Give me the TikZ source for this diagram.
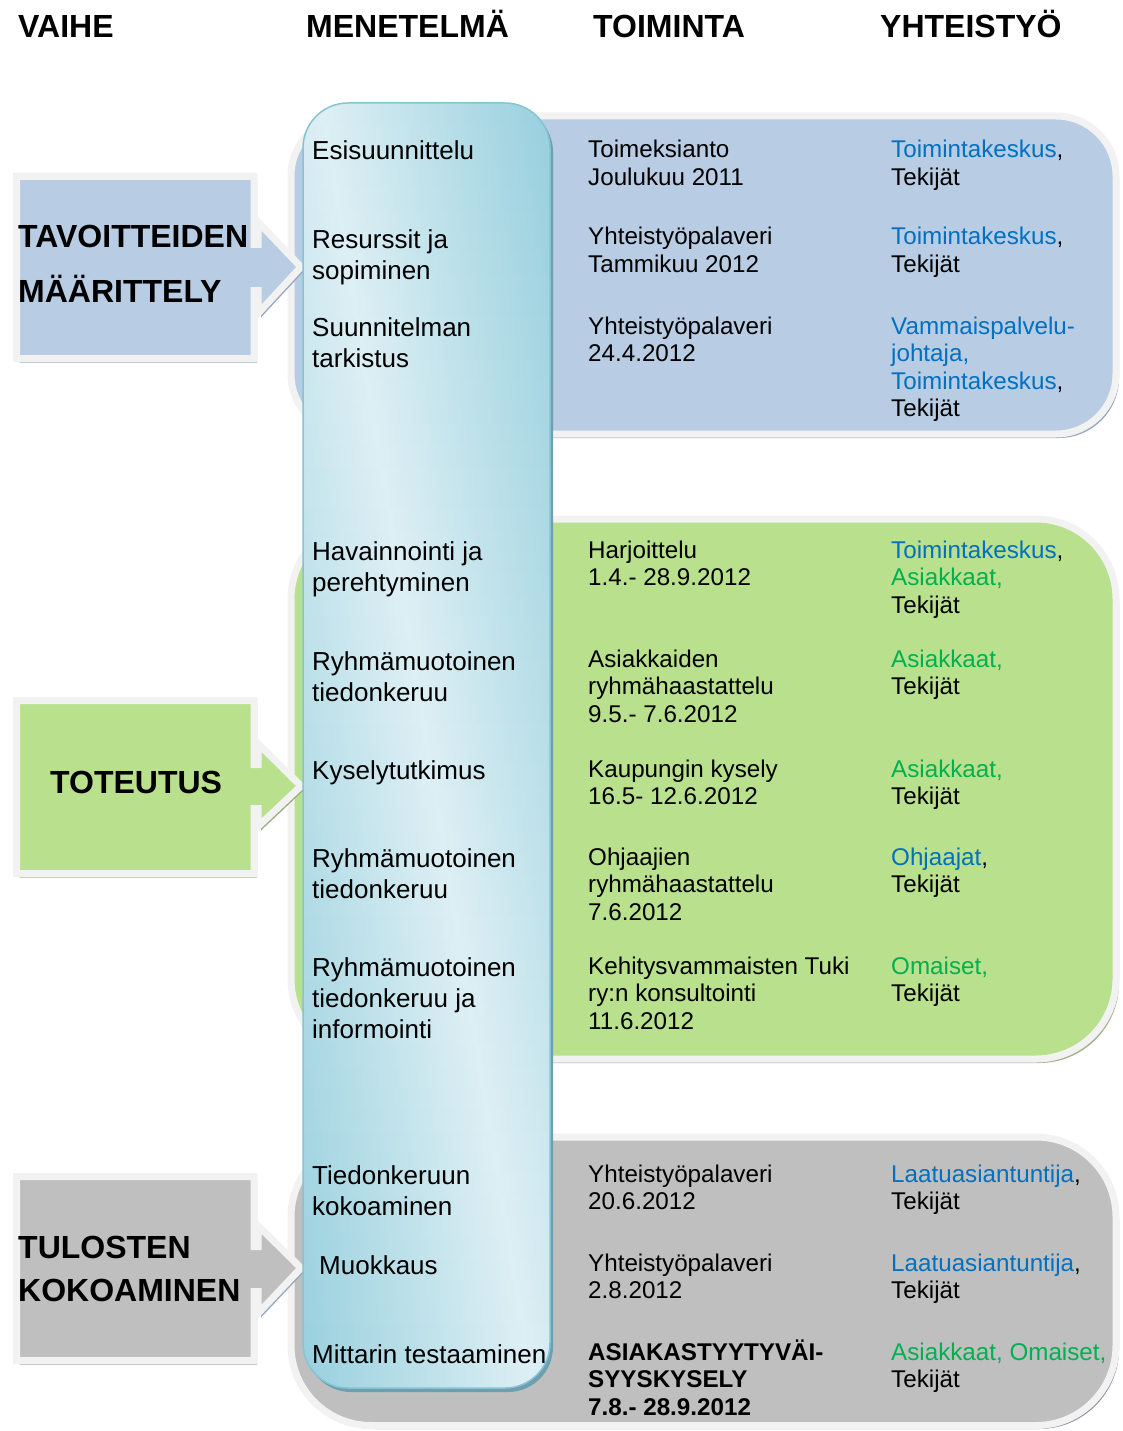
\documentclass[tikz,border=0pt]{standalone}
\usepackage{fontspec}
\setmainfont{Liberation Sans}
\definecolor{phaseblue}{HTML}{B8CCE4}
\definecolor{phasegreen}{HTML}{B9E08C}
\definecolor{phasegray}{HTML}{BFBFBF}
\definecolor{rimgray}{HTML}{F2F2F2}
\definecolor{shadeblue}{HTML}{95A6BD}
\definecolor{shadegreen}{HTML}{9DAF86}
\definecolor{shadegray}{HTML}{8E8CA2}
\definecolor{barlight}{HTML}{DDEFF4}
\definecolor{bardark}{HTML}{92CDDC}
\definecolor{baredge}{HTML}{86C3D3}
\definecolor{barshadow}{HTML}{6E9FAE}
\definecolor{linkblue}{HTML}{0070C0}
\definecolor{linkgreen}{HTML}{00B050}

\begin{document}
\begin{tikzpicture}[x=1pt, y=-1pt,
  rim/.style={draw=rimgray, line width=7pt, line join=miter},
  head/.style={anchor=base west, inner sep=0pt, font=\fontsize{32}{40}\selectfont\bfseries},
  phase/.style={anchor=base west, inner sep=0pt, align=left, font=\fontsize{32}{55}\selectfont\bfseries},
  method/.style={anchor=base west, inner sep=0pt, align=left, font=\fontsize{26}{31}\selectfont},
  task/.style={anchor=base west, inner sep=0pt, align=left, font=\fontsize{24.2}{27.6}\selectfont}]
  \useasboundingbox (0,0) rectangle (1122,1431);

  % column heads
  \node[head] (hvaihe) at (18,38) {VAIHE};
  \node[head] (hmenet) at (306,38) {MENETELMÄ};
  \node[head] (htoimi) at (593,38) {TOIMINTA};
  \node[head] (hyhteis) at (880,38) {YHTEISTYÖ};

  % phase panels
  \fill[shadeblue, rounded corners=60] (294,120) rectangle (1119,438);
  \draw[rim, fill=phaseblue, rounded corners=60] (291,116) rectangle (1116,434);
  \fill[shadegreen, rounded corners=80] (294,523) rectangle (1119,1063);
  \draw[rim, fill=phasegreen, rounded corners=80] (291,519) rectangle (1116,1059);
  \fill[shadegray, rounded corners=80] (294,1141) rectangle (1119,1429);
  \draw[rim, fill=phasegray, rounded corners=80] (291,1137) rectangle (1116,1425.5);

  % phase arrows on the left
  \fill[shadeblue, shift={(3,4)}] (16.5,176.5) -- (254,176.5) -- (254,244.5) -- (258,244.5) -- (258,222) -- (301,267)
    -- (258,313.5) -- (258,290.5) -- (254,290.5) -- (254,358.5) -- (16.5,358.5) -- cycle;
  \draw[rim, fill=phaseblue] (16.5,176.5) -- (254,176.5) -- (254,244.5) -- (258,244.5) -- (258,222) -- (301,267)
    -- (258,313.5) -- (258,290.5) -- (254,290.5) -- (254,358.5) -- (16.5,358.5) -- cycle;
  \fill[shadegreen, shift={(3,4)}] (16.5,700.5) -- (254,700.5) -- (254,764.5) -- (258,764.5) -- (258,743.5) -- (301,786)
    -- (258,826.5) -- (258,808.5) -- (254,808.5) -- (254,873.5) -- (16.5,873.5) -- cycle;
  \draw[rim, fill=phasegreen] (16.5,700.5) -- (254,700.5) -- (254,764.5) -- (258,764.5) -- (258,743.5) -- (301,786)
    -- (258,826.5) -- (258,808.5) -- (254,808.5) -- (254,873.5) -- (16.5,873.5) -- cycle;
  \fill[shadeblue, shift={(3,4)}] (16.5,1176.5) -- (254,1176.5) -- (254,1246.5) -- (258,1246.5) -- (258,1225.5) -- (301,1268)
    -- (258,1313.5) -- (258,1291.5) -- (254,1291.5) -- (254,1360.5) -- (16.5,1360.5) -- cycle;
  \draw[rim, fill=phasegray] (16.5,1176.5) -- (254,1176.5) -- (254,1246.5) -- (258,1246.5) -- (258,1225.5) -- (301,1268)
    -- (258,1313.5) -- (258,1291.5) -- (254,1291.5) -- (254,1360.5) -- (16.5,1360.5) -- cycle;

  % multi-line nodes sit on the baseline of their last line
  \node[phase] (ptavoite) at (18,302.5) {TAVOITTEIDEN\\MÄÄRITTELY};
  \node[phase] (ptoteutus) at (50,793.5) {TOTEUTUS};
  \node[phase, font=\fontsize{32}{43}\selectfont\bfseries] (ptulos) at (18,1301.5) {TULOSTEN\\KOKOAMINEN};

  % method bar, light spot runs from upper left to lower right
  \fill[barshadow, rounded corners=45] (306,107) rectangle (553,1392);
  \begin{scope}
    \clip[rounded corners=45] (303,103) rectangle (550,1388);
    \foreach \i in {0,...,59}{
      \pgfmathsetmacro\ya{103+\i*21.4167}
      \pgfmathsetmacro\yb{\ya+22.4}
      \pgfmathsetmacro\xp{303+247*(0.08+0.84*\i/59)}
      \pgfmathtruncatemacro\pl{100*(0.08+0.84*\i/59)}
      \pgfmathtruncatemacro\pr{100-\pl}
      \shade[left color=bardark!\pl!barlight, right color=barlight] (303,\ya) rectangle (\xp+0.5,\yb);
      \shade[left color=barlight, right color=bardark!\pr!barlight] (\xp,\ya) rectangle (550,\yb);
    }
  \end{scope}
  \draw[baredge, line width=1.5pt, rounded corners=45] (303,103) rectangle (550,1388);

  % MENETELMÄ
  \node[method] (m1) at (312,160) {Esisuunnittelu};
  \node[method] (m2) at (312,279) {Resurssit ja\\sopiminen};
  \node[method] (m3) at (312,367) {Suunnitelman\\tarkistus};
  \node[method] (m4) at (312,591) {Havainnointi ja\\perehtyminen};
  \node[method] (m5) at (312,701) {Ryhmämuotoinen\\tiedonkeruu};
  \node[method] (m6) at (312,779) {Kyselytutkimus};
  \node[method] (m7) at (312,898) {Ryhmämuotoinen\\tiedonkeruu};
  \node[method] (m8) at (312,1038) {Ryhmämuotoinen\\tiedonkeruu ja\\informointi};
  \node[method] (m9) at (312,1215) {Tiedonkeruun\\kokoaminen};
  \node[method] (m10) at (319,1274) {Muokkaus};
  \node[method] (m11) at (312,1363) {Mittarin testaaminen};

  % TOIMINTA
  \node[task] (t1) at (588,185.6) {Toimeksianto\\Joulukuu 2011};
  \node[task] (t2) at (588,272.6) {Yhteistyöpalaveri\\Tammikuu 2012};
  \node[task] (t3) at (588,361.6) {Yhteistyöpalaveri\\24.4.2012};
  \node[task] (t4) at (588,585.6) {Harjoittelu\\1.4.- 28.9.2012};
  \node[task] (t5) at (588,722.2) {Asiakkaiden\\ryhmähaastattelu\\9.5.- 7.6.2012};
  \node[task] (t6) at (588,804.6) {Kaupungin kysely\\16.5- 12.6.2012};
  \node[task] (t7) at (588,920.2) {Ohjaajien\\ryhmähaastattelu\\7.6.2012};
  \node[task] (t8) at (588,1029.2) {Kehitysvammaisten Tuki\\ry:n konsultointi\\11.6.2012};
  \node[task] (t9) at (588,1209.6) {Yhteistyöpalaveri\\20.6.2012};
  \node[task] (t10) at (588,1298.6) {Yhteistyöpalaveri\\2.8.2012};
  \node[task, font=\fontsize{24.2}{27.6}\selectfont\bfseries] (t11) at (588,1415.2) {ASIAKASTYYTYVÄI-\\SYYSKYSELY\\7.8.- 28.9.2012};

  % YHTEISTYÖ
  \node[task] (y1) at (891,185.6) {\textcolor{linkblue}{Toimintakeskus},\\Tekijät};
  \node[task] (y2) at (891,272.6) {\textcolor{linkblue}{Toimintakeskus},\\Tekijät};
  \node[task] (y3) at (891,416.8) {\textcolor{linkblue}{Vammaispalvelu-}\\\textcolor{linkblue}{johtaja,}\\\textcolor{linkblue}{Toimintakeskus},\\Tekijät};
  \node[task] (y4) at (891,613.2) {\textcolor{linkblue}{Toimintakeskus},\\\textcolor{linkgreen}{Asiakkaat,}\\Tekijät};
  \node[task] (y5) at (891,694.6) {\textcolor{linkgreen}{Asiakkaat,}\\Tekijät};
  \node[task] (y6) at (891,804.6) {\textcolor{linkgreen}{Asiakkaat,}\\Tekijät};
  \node[task] (y7) at (891,892.6) {\textcolor{linkblue}{Ohjaajat},\\Tekijät};
  \node[task] (y8) at (891,1001.6) {\textcolor{linkgreen}{Omaiset,}\\Tekijät};
  \node[task] (y9) at (891,1209.6) {\textcolor{linkblue}{Laatuasiantuntija},\\Tekijät};
  \node[task] (y10) at (891,1298.6) {\textcolor{linkblue}{Laatuasiantuntija},\\Tekijät};
  \node[task] (y11) at (891,1387.6) {\textcolor{linkgreen}{Asiakkaat, Omaiset,}\\Tekijät};
\end{tikzpicture}
\end{document}
